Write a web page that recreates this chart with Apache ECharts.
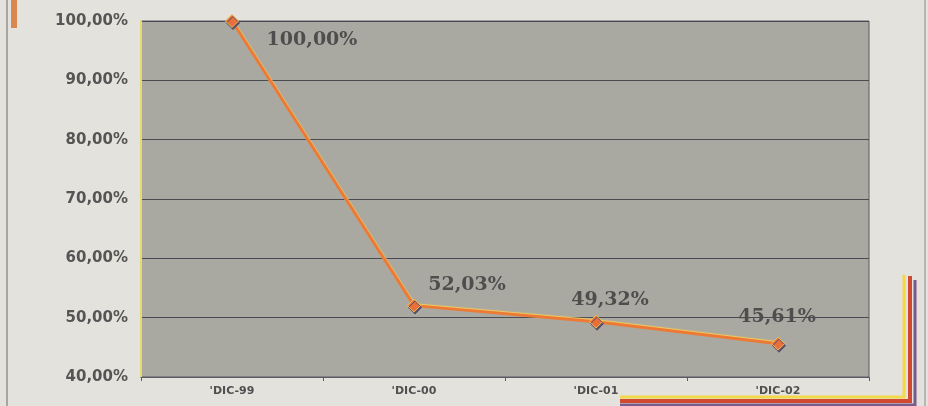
<!DOCTYPE html>
<html>
<head>
<meta charset="utf-8">
<script src="https://cdn.jsdelivr.net/npm/echarts@6/dist/echarts.min.js"></script>
<style>
  html, body { margin: 0; padding: 0; background: #e3e2dd; }
  #chart { width: 928px; height: 406px; }
</style>
</head>
<body>
<div id="chart"></div>
<script>
var categories = ["'DIC-99", "'DIC-00", "'DIC-01", "'DIC-02"];
var values = [100.00, 52.03, 49.32, 45.61];
var yTicks = [40, 50, 60, 70, 80, 90, 100];

// label nudges (px) per point, as printed
var labelShift = [[80, 19], [53, -21], [14, -22], [-1, -27]];

function pct(v) {
  return v.toFixed(2).replace('.', ',') + '%';
}

var chart = echarts.init(document.getElementById('chart'));
chart.setOption({
  backgroundColor: '#e3e2dd',
  animation: false,
  grid: {
    left: 141,
    right: 59,
    top: 21,
    bottom: 29,
    show: true,
    backgroundColor: '#aaa9a1',
    borderColor: '#5a5a66',
    borderWidth: 1
  },
  graphic: [
    { type: 'line', shape: { x1: 7, y1: 0, x2: 7, y2: 406 }, style: { stroke: '#6a6a6a', lineWidth: 1 } },
    { type: 'line', shape: { x1: 925, y1: 0, x2: 925, y2: 406 }, style: { stroke: '#8a8a8a', lineWidth: 1 } },
    { type: 'rect', shape: { x: 11, y: 0, width: 6, height: 28 }, style: { fill: '#d9874e' } },
    { type: 'polyline', shape: { points: [[620, 405], [915, 405], [915, 280]] }, style: { stroke: '#7a5a8a', lineWidth: 3, fill: null } },
    { type: 'polyline', shape: { points: [[620, 401], [910, 401], [910, 276]] }, style: { stroke: '#d04a32', lineWidth: 4, fill: null } },
    { type: 'polyline', shape: { points: [[620, 397], [904, 397], [904, 275]] }, style: { stroke: '#f2d84a', lineWidth: 3, fill: null } }
  ],
  xAxis: {
    type: 'category',
    data: categories,
    boundaryGap: true,
    axisLine: { lineStyle: { color: '#5a5a66', width: 1 } },
    axisTick: { show: true, length: 4, lineStyle: { color: '#5a5a66' } },
    axisLabel: {
      color: '#505050',
      fontFamily: 'DejaVu Sans, sans-serif',
      fontWeight: 'bold',
      fontSize: 11,
      margin: 9
    }
  },
  yAxis: {
    type: 'value',
    min: 40,
    max: 100,
    interval: 10,
    axisLine: { show: true, lineStyle: { color: '#e8d870', width: 2 } },
    axisTick: { show: false },
    splitLine: { lineStyle: { color: '#4a4a52', width: 1 } },
    axisLabel: {
      color: '#555555',
      fontFamily: 'DejaVu Sans, sans-serif',
      fontWeight: 'bold',
      fontSize: 15,
      margin: 13,
      formatter: function (v) { return pct(v); }
    }
  },
  series: [{
    type: 'line',
    symbol: 'diamond',
    symbolSize: 13,
    lineStyle: { color: '#ec7a36', width: 3, shadowColor: '#f4cc5a', shadowOffsetY: -1, shadowBlur: 1 },
    itemStyle: { color: '#e8703a', borderColor: '#f0c050', borderWidth: 1, shadowColor: '#5a4a6a', shadowOffsetX: 1, shadowOffsetY: 2 },
    label: {
      show: true,
      position: 'inside',
      formatter: function (p) { return pct(p.value); },
      fontFamily: 'DejaVu Serif, serif',
      fontWeight: 'bold',
      fontSize: 19,
      color: '#4e4e4e'
    },
    labelLayout: function (p) {
      var s = labelShift[p.dataIndex];
      return { dx: s[0], dy: s[1] };
    },
    data: values
  }]
});
</script>
</body>
</html>
